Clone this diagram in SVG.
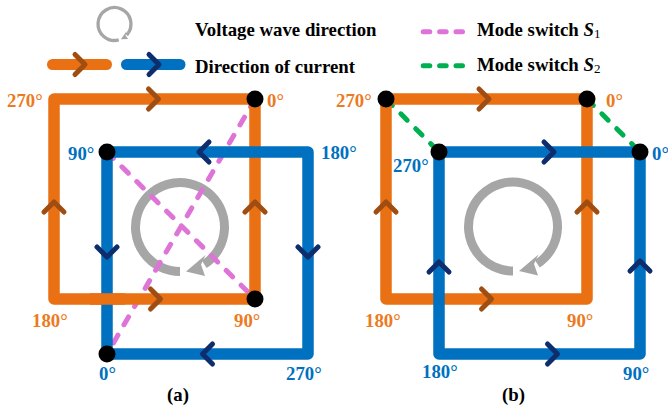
<svg xmlns="http://www.w3.org/2000/svg" xmlns:xlink="http://www.w3.org/1999/xlink" width="668" height="411" viewBox="0 0 668 411">
<style>
.t{font-family:"Liberation Serif","Times New Roman",serif;font-weight:bold;font-size:18.8px}
.to{fill:#EC7A22}
.tb{fill:#0070C0}
.tk{fill:#000}
.lo{fill:none;stroke:#E97113;stroke-width:11.5;stroke-linejoin:round}
.lb{fill:none;stroke:#0070C0;stroke-width:11.5;stroke-linejoin:round}
.co{fill:none;stroke:#A04D12;stroke-width:5;stroke-linecap:round;stroke-linejoin:round}
.cb{fill:none;stroke:#0E2D6C;stroke-width:5;stroke-linecap:round;stroke-linejoin:round}
.dp{fill:none;stroke:#DE74D8;stroke-width:5;stroke-linecap:round;stroke-dasharray:9 12}
.dg{fill:none;stroke:#00B050;stroke-width:5;stroke-linecap:round;stroke-dasharray:9 12}
.dot{fill:#000}
</style>
<defs>
<path id="chO" class="co" d="M-10,-10 L0,0 L-10,10"/>
<path id="chB" class="cb" d="M-10,-10 L0,0 L-10,10"/>
<g id="wave">
<path d="M0,44.5 A44.5,44.5 0 1 1 24.24,37.32" fill="none" stroke="#A6A6A6" stroke-width="9"/>
<polygon points="6,44.5 25.5,28 21,37.5 25,49" fill="#A6A6A6"/>
</g>
</defs>

<g id="legend">
<use xlink:href="#wave" href="#wave" transform="translate(114.5,24) scale(0.37) rotate(-15)"/>
<text class="t tk" x="195" y="36">Voltage wave direction</text>
<line x1="52.5" y1="64.5" x2="106.5" y2="64.5" stroke="#E97113" stroke-width="11" stroke-linecap="round"/>
<use xlink:href="#chO" href="#chO" transform="translate(85,64.5)"/>
<line x1="126.5" y1="64.5" x2="180" y2="64.5" stroke="#0070C0" stroke-width="11" stroke-linecap="round"/>
<use xlink:href="#chB" href="#chB" transform="translate(159,64.5)"/>
<text class="t tk" x="195" y="72.5">Direction of current</text>
<line x1="423.2" y1="31.7" x2="462.5" y2="31.7" class="dp" style="stroke-dasharray:6.6 9.8"/>
<text class="t tk" x="477" y="36">Mode switch <tspan font-style="italic">S</tspan><tspan font-size="13" font-weight="normal" dy="2">1</tspan></text>
<line x1="423.2" y1="65.7" x2="462.5" y2="65.7" class="dg" style="stroke-dasharray:6.6 9.8"/>
<text class="t tk" x="477" y="70.5">Mode switch <tspan font-style="italic">S</tspan><tspan font-size="13" font-weight="normal" dy="2">2</tspan></text>
</g>

<g id="panel-a">
<use id="a-wave" xlink:href="#wave" href="#wave" transform="translate(180,227)"/>
<g id="a-connectors">
<line class="dp" x1="255" y1="99" x2="107" y2="354"/>
<line class="dp" x1="107" y1="152" x2="255" y2="299"/>
</g>
<g id="a-orange-loop">
<path class="lo" d="M54,99 H255 V299 H54 Z"/>
</g>
<g id="a-blue-loop">
<path class="lb" d="M107,152 H308 V354 H107 Z"/>
<path class="lo" d="M90,299 H125"/>
</g>
<g id="a-arrows">
<use xlink:href="#chO" href="#chO" transform="translate(158.5,99)"/>
<use xlink:href="#chO" href="#chO" transform="translate(54,202) rotate(-90)"/>
<use xlink:href="#chO" href="#chO" transform="translate(255,202) rotate(-90)"/>
<use xlink:href="#chO" href="#chO" transform="translate(160.5,299)"/>
<use xlink:href="#chB" href="#chB" transform="translate(199,152) rotate(180)"/>
<use xlink:href="#chB" href="#chB" transform="translate(107,257) rotate(90)"/>
<use xlink:href="#chB" href="#chB" transform="translate(308,257) rotate(90)"/>
<use xlink:href="#chB" href="#chB" transform="translate(202.5,354) rotate(180)"/>
</g>
<g id="a-o0"><circle class="dot" cx="255" cy="99" r="8.5"/><text class="t to" x="267" y="107">0°</text></g>
<g id="a-o270"><text class="t to" x="7" y="107">270°</text></g>
<g id="a-o180"><text class="t to" x="32" y="327">180°</text></g>
<g id="a-o90"><circle class="dot" cx="255" cy="299" r="8.5"/><text class="t to" x="234" y="327">90°</text></g>
<g id="a-b90"><circle class="dot" cx="107" cy="152" r="8.5"/><text class="t tb" x="68" y="160">90°</text></g>
<g id="a-b180"><text class="t tb" x="321" y="159">180°</text></g>
<g id="a-b0"><circle class="dot" cx="107" cy="354" r="8.5"/><text class="t tb" x="99" y="380">0°</text></g>
<g id="a-b270"><text class="t tb" x="286" y="380">270°</text></g>
<text class="t tk" x="167" y="400.5">(a)</text>
</g>

<g id="panel-b">
<use id="b-wave" xlink:href="#wave" href="#wave" transform="translate(513,226.5)"/>
<g id="b-connectors">
<line class="dg" x1="386" y1="99" x2="439" y2="152"/>
<line class="dg" x1="587" y1="99" x2="640" y2="152"/>
</g>
<g id="b-orange-loop">
<path class="lo" d="M386,99 H587 V299 H386 Z"/>
</g>
<g id="b-blue-loop">
<path class="lb" d="M439,152 H640 V354 H439 Z"/>
</g>
<g id="b-arrows">
<use xlink:href="#chO" href="#chO" transform="translate(489,99)"/>
<use xlink:href="#chO" href="#chO" transform="translate(386,202) rotate(-90)"/>
<use xlink:href="#chO" href="#chO" transform="translate(587,202) rotate(-90)"/>
<use xlink:href="#chO" href="#chO" transform="translate(491.5,299)"/>
<use xlink:href="#chB" href="#chB" transform="translate(554,152)"/>
<use xlink:href="#chB" href="#chB" transform="translate(439,262) rotate(-90)"/>
<use xlink:href="#chB" href="#chB" transform="translate(640,261) rotate(-90)"/>
<use xlink:href="#chB" href="#chB" transform="translate(557.5,354)"/>
</g>
<g id="b-o270"><circle class="dot" cx="386" cy="99" r="8.5"/><text class="t to" x="336" y="107">270°</text></g>
<g id="b-o0"><circle class="dot" cx="587" cy="99" r="8.5"/><text class="t to" x="606" y="107">0°</text></g>
<g id="b-o180"><text class="t to" x="365" y="327">180°</text></g>
<g id="b-o90"><text class="t to" x="567" y="327">90°</text></g>
<g id="b-b270"><circle class="dot" cx="439" cy="152" r="8.5"/><text class="t tb" x="393" y="172">270°</text></g>
<g id="b-b0"><circle class="dot" cx="640" cy="152" r="8.5"/><text class="t tb" x="652" y="160">0°</text></g>
<g id="b-b180"><text class="t tb" x="422" y="378">180°</text></g>
<g id="b-b90"><text class="t tb" x="623" y="380">90°</text></g>
<text class="t tk" x="502" y="400.5">(b)</text>
</g>
</svg>
